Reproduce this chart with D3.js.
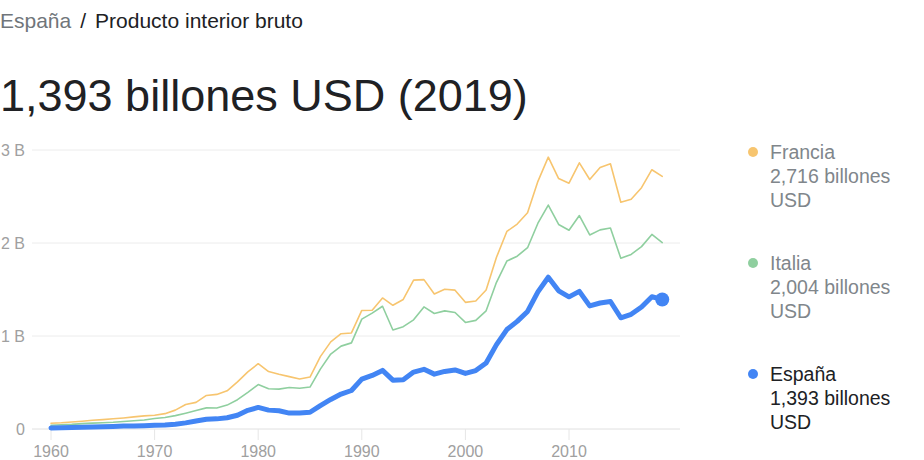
<!DOCTYPE html>
<html><head><meta charset="utf-8">
<script src="https://cdn.jsdelivr.net/npm/d3@7"></script>
<style>
body{margin:0;background:#fff;font-family:"Liberation Sans",Arial,sans-serif;}
svg{display:block}
</style></head><body>
<svg id="c" width="924" height="460"></svg>
<script>
const years = d3.range(1960, 2020);
const francia = [0.062,0.067,0.075,0.084,0.094,0.101,0.110,0.119,0.130,0.141,0.148,0.165,0.203,0.264,0.286,0.361,0.372,0.411,0.507,0.614,0.702,0.618,0.589,0.563,0.537,0.559,0.778,0.937,1.025,1.033,1.275,1.277,1.409,1.330,1.393,1.601,1.606,1.452,1.503,1.493,1.362,1.377,1.495,1.846,2.124,2.204,2.325,2.663,2.923,2.693,2.643,2.862,2.683,2.811,2.852,2.438,2.471,2.595,2.788,2.716];
const italia = [0.040,0.045,0.050,0.058,0.063,0.068,0.073,0.081,0.088,0.097,0.113,0.124,0.144,0.170,0.198,0.227,0.225,0.257,0.315,0.394,0.478,0.432,0.429,0.446,0.438,0.451,0.644,0.806,0.891,0.926,1.181,1.246,1.320,1.065,1.100,1.174,1.313,1.242,1.270,1.253,1.146,1.168,1.271,1.577,1.806,1.858,1.949,2.213,2.408,2.199,2.137,2.295,2.087,2.141,2.162,1.836,1.877,1.961,2.092,2.004];
const espana = [0.012,0.014,0.016,0.019,0.021,0.025,0.028,0.031,0.031,0.035,0.039,0.043,0.052,0.066,0.086,0.104,0.109,0.121,0.148,0.201,0.232,0.203,0.196,0.171,0.173,0.180,0.252,0.318,0.376,0.414,0.536,0.576,0.630,0.525,0.529,0.612,0.642,0.590,0.619,0.635,0.598,0.628,0.709,0.907,1.069,1.157,1.264,1.474,1.632,1.486,1.421,1.480,1.324,1.355,1.371,1.196,1.233,1.312,1.422,1.393];
const xTicks = [1960,1970,1980,1990,2000,2010];
const yTicks = [0,1,2,3];
const yTickLabels = ["0","1 B","2 B","3 B"];
const seriesNames = ["Francia","Italia","España"];
const legendValues = ["2,716 billones","2,004 billones","1,393 billones"];
const breadcrumb = ["España","Producto interior bruto"];
const title = "1,393 billones USD (2019)";

const svg = d3.select("#c");
const x = d3.scaleLinear().domain([1960, 2010]).range([51, 569]);
const y = d3.scaleLinear().domain([0, 3]).range([429, 150]);

// breadcrumb
const bc = svg.append("text").attr("x", 0).attr("y", 28).attr("font-size", 21);
bc.append("tspan").attr("fill", "#70757a").text(breadcrumb[0]);
bc.append("tspan").attr("fill", "#202124").attr("dx", 9).text("/");
bc.append("tspan").attr("fill", "#202124").attr("dx", 9).text(breadcrumb[1]);

svg.append("text").attr("x", 0).attr("y", 111).attr("font-size", 45).attr("fill", "#202124").text(title);

// grid
const grid = svg.append("g");
yTicks.forEach((t, i) => {
  grid.append("line").attr("x1", 32).attr("x2", 680).attr("y1", y(t)).attr("y2", y(t))
    .attr("stroke", i === 0 ? "#e0e0e0" : "#ececec").attr("stroke-width", 1);
  grid.append("text").attr("x", 25).attr("y", y(t) + 6).attr("text-anchor", "end")
    .attr("font-size", 16).attr("fill", "#a0a0a0").text(yTickLabels[i]);
});
xTicks.forEach(t => {
  grid.append("line").attr("x1", x(t)).attr("x2", x(t)).attr("y1", 429).attr("y2", 440)
    .attr("stroke", "#e6e6e6").attr("stroke-width", 1);
  grid.append("text").attr("x", x(t)).attr("y", 457).attr("text-anchor", "middle")
    .attr("font-size", 16).attr("fill", "#a0a0a0").text(t);
});

const line = d3.line().x((d, i) => x(years[i])).y(d => y(d));
const colors = ["#f7c56f", "#8fcf9f", "#4285f4"];
const data = [francia, italia, espana];
const widths = [1.6, 1.6, 5];
data.forEach((s, k) => {
  svg.append("path").datum(s).attr("d", line).attr("fill", "none")
    .attr("stroke", colors[k]).attr("stroke-width", widths[k])
    .attr("stroke-linejoin", "round").attr("stroke-linecap", "round");
});
svg.append("circle").attr("cx", x(2019)).attr("cy", y(espana[espana.length - 1])).attr("r", 7).attr("fill", colors[2]);

// legend
const legTop = [159, 270, 381];
seriesNames.forEach((n, k) => {
  const g = svg.append("g");
  const fill = k === 2 ? "#202124" : "#80868b";
  g.append("circle").attr("cx", 753).attr("cy", legTop[k] - 7).attr("r", 5).attr("fill", colors[k]);
  [n, legendValues[k], "USD"].forEach((t, j) => {
    g.append("text").attr("x", 770).attr("y", legTop[k] + j * 24).attr("font-size", 19.5).attr("fill", fill).text(t);
  });
});
</script>
</body></html>
